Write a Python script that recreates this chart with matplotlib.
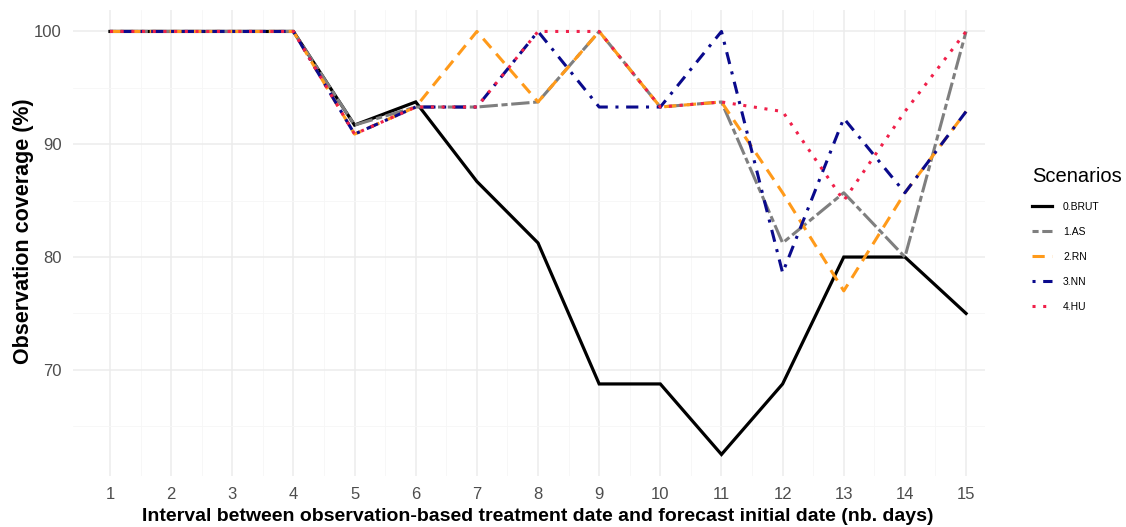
import numpy as np
import matplotlib.pyplot as plt

plt.rcParams['font.family'] = ['Liberation Sans', 'DejaVu Sans']

# interval in days
days = np.arange(1, 16)

brut = [100, 100, 100, 100, 91.7, 93.75, 86.7, 81.25, 68.75, 68.75, 62.5, 68.75, 80, 80, 75]
as_ = [100, 100, 100, 100, 91.7, 93.3, 93.3, 93.75, 100, 93.3, 93.75, 81.25, 85.7, 80, 100]
rn = [100, 100, 100, 100, 90.9, 93.3, 100, 93.75, 100, 93.3, 93.75, 85.7, 77.0, 85.7, 92.9]
nn = [100, 100, 100, 100, 90.9, 93.3, 93.3, 100, 93.3, 93.3, 100, 78.6, 92.3, 85.7, 92.9]
hu = [100, 100, 100, 100, 90.9, 93.3, 93.3, 100, 100, 93.3, 93.75, 92.9, 85.0, 92.9, 100]

labels = ['0.BRUT', '1.AS', '2.RN', '3.NN', '4.HU']
colors = ['black', '#7f7f7f', '#ff9a1a', '#0a0a8c', '#f0204a']
styles = ['-', (0, (2, 1.2, 6, 1.2)), (0, (4, 2.5)), (0, (1, 2.5, 4, 2.5)), (0, (1, 2.5))]
widths = [2.3, 2.2, 2.2, 2.2, 2.2]

fig = plt.figure(figsize=(11.26, 5.27), dpi=100)
ax = fig.add_axes([0.0648, 0.097, 0.81, 0.884])

series = [brut, as_, rn, nn, hu]
for vals, lab, c, ls, lw in zip(series, labels, colors, styles, widths):
    ax.plot(days, vals, color=c, linestyle=ls, linewidth=lw, label=lab,
            dash_capstyle='butt', solid_joinstyle='miter')

ax.set_xlim(0.395, 15.31)
ax.set_ylim(60.6, 101.9)
ax.set_xticks(days)
ax.set_yticks([70, 80, 90, 100])
ax.set_xticks(np.arange(1.5, 15, 1), minor=True)
ax.set_yticks([65, 75, 85, 95], minor=True)
ax.grid(which='major', color='#ececec', linewidth=1.1)
ax.grid(which='minor', color='#f6f6f6', linewidth=0.6)
ax.set_axisbelow(True)
for s in ax.spines.values():
    s.set_visible(False)
ax.tick_params(which='both', length=0, labelsize=12, labelcolor='#4d4d4d', pad=8)

ax.set_xlabel('Interval between observation-based treatment date and forecast initial date (nb. days)',
              fontsize=14, fontweight='bold')
ax.xaxis.set_label_coords(0.51, -0.068)
ax.set_ylabel('Observation coverage (%)', fontsize=15.5, fontweight='bold')
ax.yaxis.set_label_coords(-0.043, 0.526)

leg = fig.legend(loc='upper left', bbox_to_anchor=(0.908, 0.70), frameon=False,
                 title='Scenarios', fontsize=7.5, title_fontsize=14.5,
                 handlelength=1.9, labelspacing=1.45, handletextpad=1.1)
leg._legend_box.align = 'left'

fig.savefig('out.png', dpi=100)
